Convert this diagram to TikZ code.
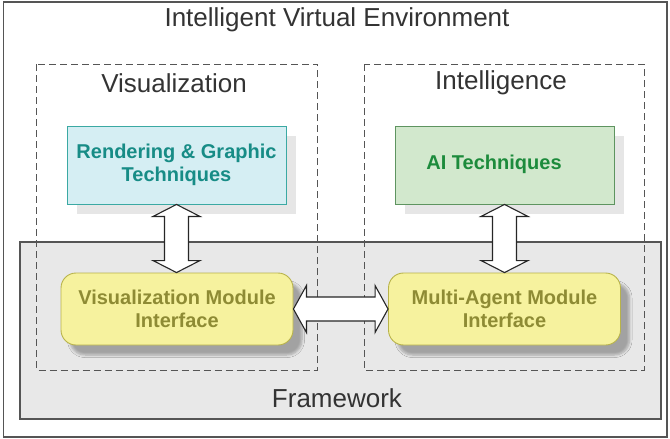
\documentclass[tikz,border=0pt]{standalone}
\usepackage{fontspec}
\setmainfont{Liberation Sans}
\usetikzlibrary{calc,shadows,shadows.blur}

\definecolor{linegray}{HTML}{555555}
\definecolor{fwfill}{HTML}{E8E8E8}
\definecolor{rgfill}{HTML}{D5EEF3}
\definecolor{rgline}{HTML}{3BA9A3}
\definecolor{rgtext}{HTML}{178C86}
\definecolor{aifill}{HTML}{D2E8CD}
\definecolor{ailine}{HTML}{5E9460}
\definecolor{aitext}{HTML}{1D8B3C}
\definecolor{ylfill}{HTML}{F6F29E}
\definecolor{ylline}{HTML}{B8B34A}
\definecolor{yltext}{HTML}{8E8B34}
\definecolor{shadowlight}{HTML}{E6E6E6}

\begin{document}
\begin{tikzpicture}[x=1pt,y=-1pt,
  label/.style={font=\fontsize{26}{30}\selectfont, text=black!80, inner sep=0pt},
  blocktext/.style={font=\bfseries\fontsize{20}{23}\selectfont, align=center},
  techbox/.style={blocktext, rectangle, line width=0.9pt,
    minimum width=219pt, minimum height=78pt,
    drop shadow={shadow xshift=10pt, shadow yshift=-10pt, fill=shadowlight, opacity=1}},
  modbox/.style={blocktext, rectangle, rounded corners=15pt, line width=0.9pt,
    draw=ylline, fill=ylfill, text=yltext,
    minimum width=232pt, minimum height=72pt,
    blur shadow={shadow xshift=9pt, shadow yshift=-10pt, shadow blur radius=2.5pt,
      shadow blur steps=6, shadow opacity=30}},
  groupbox/.style={draw=linegray, line width=0.9pt, dash pattern=on 7pt off 4pt},
  blockarrow/.style={draw=black!85, fill=white, line width=1.1pt, line join=miter}
]
\useasboundingbox (0,0) rectangle (670,439);

% outer environment frame and framework panel
\draw[draw=linegray, line width=1.3pt] (3.5,2) rectangle (667,437);
\draw[draw=linegray, fill=fwfill, line width=1.2pt] (20,242) rectangle (661,419);

% dashed groups
\draw[groupbox] (36.5,64) rectangle (317.5,370);
\draw[groupbox] (364,64) rectangle (644,370);

% labels
\node[label] (title) at (337,20) {Intelligent Virtual Environment};
\node[label] (vislbl) at (174,83) {Visualization};
\node[label] (intlbl) at (501,83) {Intelligence};
\node[label] (fwlbl) at (337,398) {Framework};

% blocks
\node[techbox, draw=rgline, fill=rgfill, text=rgtext] (rg) at (176.5,165)
  {Rendering \& Graphic\\Techniques};
\node[techbox, draw=ailine, fill=aifill, text=aitext] (ai) at (504.5,165) {};
\node[blocktext, text=aitext] (aitxt) at (494,164) {AI Techniques};

\node[modbox] (vmi) at (177,309) {Visualization Module\\Interface};
\node[modbox] (mami) at (504.5,309) {Multi-Agent Module\\Interface};

% block double arrows
\draw[blockarrow] let \p1=(rg.south), \p2=(vmi.north) in
  (\x1,\y1) -- (\x1+23.5pt,\y1-12pt) -- (\x1+12pt,\y1-12pt) -- (\x1+12pt,\y2+12pt)
  -- (\x1+23.5pt,\y2+12pt) -- (\x1,\y2) -- (\x1-23.5pt,\y2+12pt) -- (\x1-12pt,\y2+12pt)
  -- (\x1-12pt,\y1-12pt) -- (\x1-23.5pt,\y1-12pt) -- cycle;
\draw[blockarrow] let \p1=(ai.south), \p2=(mami.north) in
  (\x1,\y1) -- (\x1+23.5pt,\y1-12pt) -- (\x1+12pt,\y1-12pt) -- (\x1+12pt,\y2+12pt)
  -- (\x1+23.5pt,\y2+12pt) -- (\x1,\y2) -- (\x1-23.5pt,\y2+12pt) -- (\x1-12pt,\y2+12pt)
  -- (\x1-12pt,\y1-12pt) -- (\x1-23.5pt,\y1-12pt) -- cycle;
\draw[blockarrow] let \p1=(vmi.east), \p2=(mami.west) in
  (\x1,\y1) -- (\x1+13pt,\y1+23.5pt) -- (\x1+13pt,\y1+12pt) -- (\x2-13pt,\y1+12pt)
  -- (\x2-13pt,\y1+23.5pt) -- (\x2,\y1) -- (\x2-13pt,\y1-23.5pt) -- (\x2-13pt,\y1-12pt)
  -- (\x1+13pt,\y1-12pt) -- (\x1+13pt,\y1-23.5pt) -- cycle;
\end{tikzpicture}
\end{document}
